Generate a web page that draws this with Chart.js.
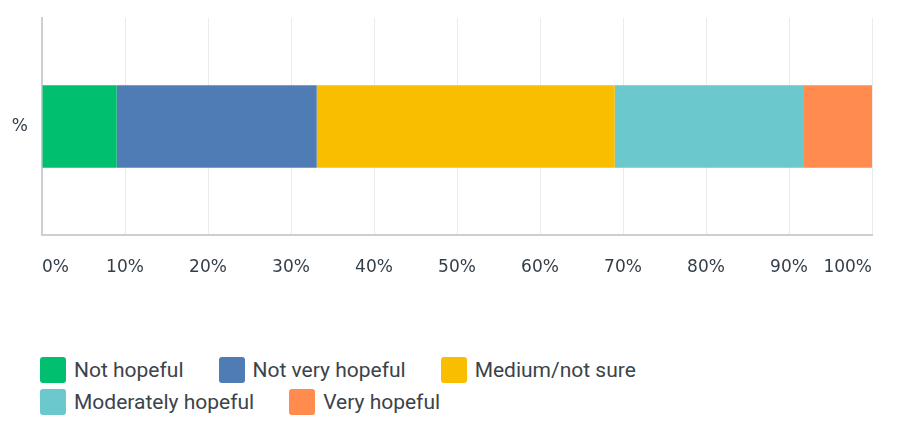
<!DOCTYPE html>
<html>
<head>
<meta charset="utf-8">
<script src="https://cdn.jsdelivr.net/npm/chart.js@4"></script>
<style>
  html, body { margin: 0; padding: 0; background: #fff; }
  #wrap { position: relative; width: 904px; height: 434px; }
  #chartBox { position: absolute; left: 0; top: 0; width: 904px; height: 300px; }
  #legend { position: absolute; left: 40px; top: 357px; width: 700px; display: flex; flex-wrap: wrap;
    font-family: Roboto, sans-serif; font-size: 21px; color: #3b434b; }
  .item { display: flex; align-items: center; height: 26px; margin: 0 35px 6px 0; }
  .sw { width: 26px; height: 26px; border-radius: 3px; margin-right: 8px; }
</style>
</head>
<body>
<div id="wrap">
  <div id="chartBox"><canvas id="hopeChart"></canvas></div>
  <div id="legend"></div>
</div>
<script>
// answer options and their share (%)
const categories = ['%'];
const seriesNames = ['Not hopeful', 'Not very hopeful', 'Medium/not sure', 'Moderately hopeful', 'Very hopeful'];
const seriesValues = [9.0, 24.1, 35.9, 22.7, 8.3];
const seriesColors = ['#00bf6f', '#507cb6', '#f9be00', '#6bc8cd', '#ff8b4f'];
const tickLabels = ['0%', '10%', '20%', '30%', '40%', '50%', '60%', '70%', '80%', '90%', '100%'];

document.addEventListener('DOMContentLoaded', () => {
    const ctx = document.getElementById('hopeChart').getContext('2d');
    new Chart(ctx, {
        type: 'bar',
        data: {
            labels: categories,
            datasets: seriesNames.map((name, i) => ({
                label: name,
                data: [seriesValues[i]],
                backgroundColor: seriesColors[i],
                borderWidth: 0,
                categoryPercentage: 1,
                barPercentage: 0.38
            }))
        },
        options: {
            indexAxis: 'y',
            responsive: true,
            maintainAspectRatio: false,
            animation: false,
            layout: { padding: { top: 18, right: 32, left: 0, bottom: 0 } },
            plugins: { legend: { display: false }, tooltip: { enabled: false } },
            scales: {
                x: {
                    stacked: true,
                    min: 0,
                    max: 100,
                    afterFit: (s) => { s.height = 65; },
                    grid: { color: '#ebebeb', lineWidth: 1, drawTicks: false },
                    border: { color: '#cfcfcf', width: 2 },
                    ticks: {
                        stepSize: 10,
                        padding: 22,
                        align: 'inner',
                        maxRotation: 0,
                        autoSkip: false,
                        color: '#333e48',
                        font: { family: 'DejaVu Sans', size: 17 },
                        callback: (v) => tickLabels[Math.round(v / 10)]
                    }
                },
                y: {
                    stacked: true,
                    afterFit: (s) => { s.width = 42; },
                    grid: { display: false },
                    border: { color: '#cfcfcf', width: 2 },
                    ticks: {
                        padding: 6,
                        color: '#333e48',
                        font: { family: 'DejaVu Sans', size: 17 }
                    }
                }
            }
        }
    });

    // legend drawn as html so the rows wrap like the original
    const legend = document.getElementById('legend');
    seriesNames.forEach((name, i) => {
        const item = document.createElement('div');
        item.className = 'item';
        item.innerHTML = '<span class="sw" style="background:' + seriesColors[i] + '"></span><span>' + name + '</span>';
        legend.appendChild(item);
    });
});
</script>
</body>
</html>
